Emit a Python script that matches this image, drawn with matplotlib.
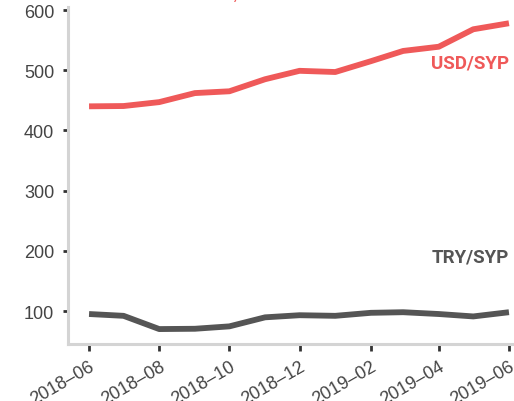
import matplotlib
matplotlib.use("Agg")
import matplotlib.pyplot as plt
import matplotlib.transforms as mtransforms
import datetime as dt

plt.rcParams['font.family'] = ['Liberation Sans', 'DejaVu Sans']

months = ["2018-06", "2018-07", "2018-08", "2018-09", "2018-10", "2018-11", "2018-12",
          "2019-01", "2019-02", "2019-03", "2019-04", "2019-05", "2019-06"]
usd_syp = [440, 440.5, 447, 462, 465, 485, 499, 497, 515, 532, 539, 568, 578]
try_syp = [95, 92, 70, 70.5, 74.5, 89.5, 93, 92, 97, 98, 95, 91, 98]
tick_labels = ["2018\u201306", "2018\u201308", "2018\u201310", "2018\u201312",
               "2019\u201302", "2019\u201304", "2019\u201306"]
yticks = [100, 200, 300, 400, 500, 600]

red = "#EF5959"
dark = "#555555"

dates = [dt.datetime.strptime(m, "%Y-%m") for m in months]

W, H = 514, 402
fig = plt.figure(figsize=(W / 100, H / 100), dpi=100)
ax = fig.add_axes([68 / W, 1 - 345 / H, (530 - 68) / W, (345 - 8) / H])

ax.plot(dates, usd_syp, color=red, lw=4.2, solid_capstyle='butt')
ax.plot(dates, try_syp, color=dark, lw=4.2, solid_capstyle='butt')

pad = dt.timedelta(days=18.3)
ax.set_xlim(dates[0] - pad, dates[-1] + pad)
ax.set_ylim(45.2, 605)

xt = [dates[i] for i in range(0, 13, 2)]
ax.set_xticks(xt)
ax.set_xticklabels(tick_labels, rotation=30, ha='right', rotation_mode='anchor',
                   fontsize=13, color='#444444')
offset = mtransforms.ScaledTranslation(6 / 100, 0, fig.dpi_scale_trans)
for lbl in ax.get_xticklabels():
    lbl.set_transform(lbl.get_transform() + offset)

ax.set_yticks(yticks)
ax.set_yticklabels([str(v) for v in yticks], fontsize=13, color='#444444')

for s in ['top', 'right']:
    ax.spines[s].set_visible(False)
for s in ['left', 'bottom']:
    ax.spines[s].set_color('#d4d4d4')
    ax.spines[s].set_linewidth(2.2)

ax.tick_params(axis='x', length=5, width=2, color='#333333', pad=4.5)
ax.tick_params(axis='y', length=3.5, width=2, color='#333333', pad=6.5)

ax.text(dates[-1], 513, "USD/SYP", color=red, fontsize=13.5,
        fontweight='bold', ha='right', va='center', family=['Roboto', 'DejaVu Sans'])
ax.text(dates[-1], 190, "TRY/SYP", color=dark, fontsize=13.5,
        fontweight='bold', ha='right', va='center', family=['Roboto', 'DejaVu Sans'])

fig.text(237.5 / W, 1 + 3 / H, "/", color=red, fontsize=12, ha='center', va='center',
         style='italic')

fig.savefig("out.png", dpi=100)
